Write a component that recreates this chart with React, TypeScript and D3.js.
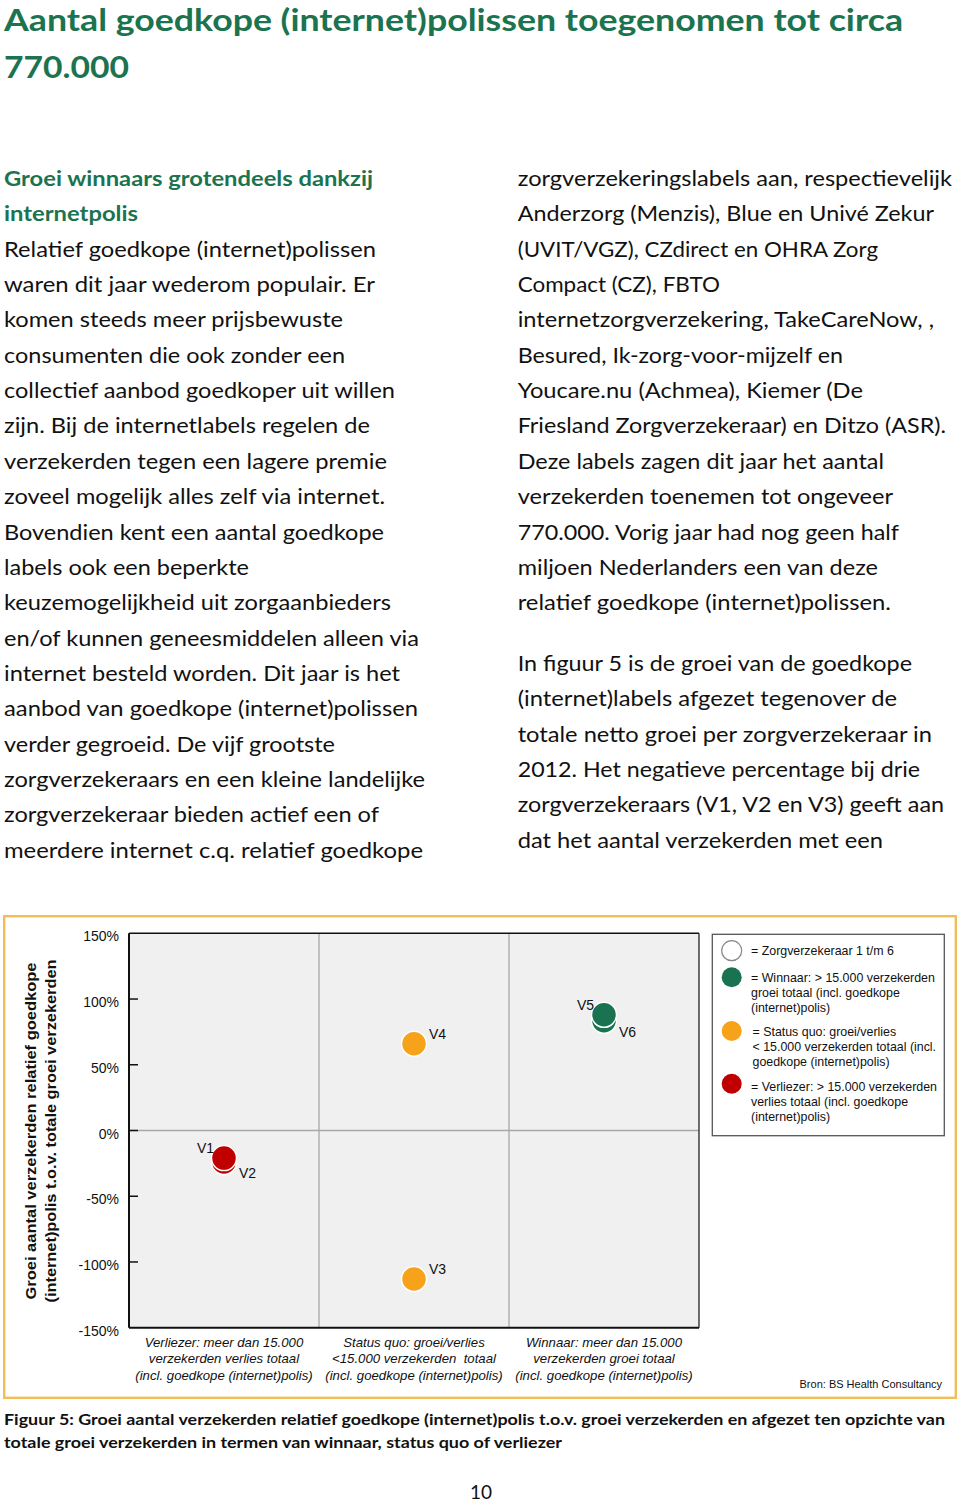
import React from "react";
import * as d3 from "d3";

// ---------- chart data ----------
const categories = ["Verliezer", "Status quo", "Winnaar"];
const insurers = ["V1", "V2", "V3", "V4", "V5", "V6"];
const insurerGroup = ["Verliezer", "Verliezer", "Status quo", "Status quo", "Winnaar", "Winnaar"];
const growthPct = [-21, -24, -113, 66, 88, 83.5];
const labelSide = ["upLeft", "downRight", "upRight", "upRight", "upLeft", "downRight"];
const yTicks = [150, 100, 50, 0, -50, -100, -150];
const categoryLabels = [
  ["Verliezer: meer dan 15.000", "verzekerden verlies totaal", "(incl. goedkope (internet)polis)"],
  ["Status quo: groei/verlies", "<15.000 verzekerden  totaal", "(incl. goedkope (internet)polis)"],
  ["Winnaar: meer dan 15.000", "verzekerden groei totaal", "(incl. goedkope (internet)polis)"],
];
const legendItems = [
  { key: "none", lines: ["= Zorgverzekeraar 1 t/m 6"] },
  { key: "Winnaar", lines: ["= Winnaar: > 15.000 verzekerden", "groei totaal (incl. goedkope", "(internet)polis)"] },
  { key: "Status quo", lines: ["= Status quo: groei/verlies", "< 15.000 verzekerden totaal (incl.", "goedkope (internet)polis)"] },
  { key: "Verliezer", lines: ["= Verliezer: > 15.000 verzekerden", "verlies totaal (incl. goedkope", "(internet)polis)"] },
];
const yTitle = ["Groei aantal verzekerden relatief goedkope", "(internet)polis t.o.v. totale groei verzekerden"];
const source = "Bron: BS Health Consultancy";

// ---------- page text ----------
const titleLines = ["Aantal goedkope (internet)polissen toegenomen tot circa", "770.000"];
const leftHeading = ["Groei winnaars grotendeels dankzij", "internetpolis"];
const leftBody = [
  "Relatief goedkope (internet)polissen",
  "waren dit jaar wederom populair. Er",
  "komen steeds meer prijsbewuste",
  "consumenten die ook zonder een",
  "collectief aanbod goedkoper uit willen",
  "zijn. Bij de internetlabels regelen de",
  "verzekerden tegen een lagere premie",
  "zoveel mogelijk alles zelf via internet.",
  "Bovendien kent een aantal goedkope",
  "labels ook een beperkte",
  "keuzemogelijkheid uit zorgaanbieders",
  "en/of kunnen geneesmiddelen alleen via",
  "internet besteld worden. Dit jaar is het",
  "aanbod van goedkope (internet)polissen",
  "verder gegroeid. De vijf grootste",
  "zorgverzekeraars en een kleine landelijke",
  "zorgverzekeraar bieden actief een of",
  "meerdere internet c.q. relatief goedkope",
];
const rightBody = [
  "zorgverzekeringslabels aan, respectievelijk",
  "Anderzorg (Menzis), Blue en Univé Zekur",
  "(UVIT/VGZ), CZdirect en OHRA Zorg",
  "Compact (CZ), FBTO",
  "internetzorgverzekering, TakeCareNow, ,",
  "Besured, Ik-zorg-voor-mijzelf en",
  "Youcare.nu (Achmea), Kiemer (De",
  "Friesland Zorgverzekeraar) en Ditzo (ASR).",
  "Deze labels zagen dit jaar het aantal",
  "verzekerden toenemen tot ongeveer",
  "770.000. Vorig jaar had nog geen half",
  "miljoen Nederlanders een van deze",
  "relatief goedkope (internet)polissen.",
  "In figuur 5 is de groei van de goedkope",
  "(internet)labels afgezet tegenover de",
  "totale netto groei per zorgverzekeraar in",
  "2012. Het negatieve percentage bij drie",
  "zorgverzekeraars (V1, V2 en V3) geeft aan",
  "dat het aantal verzekerden met een",
];
const captionLines = [
  "Figuur 5: Groei aantal verzekerden relatief goedkope (internet)polis t.o.v. groei verzekerden en afgezet ten opzichte van",
  "totale groei verzekerden in termen van winnaar, status quo of verliezer",
];
const pageNumber = "10";

// ---------- layout (measured line end positions) ----------
const leftHeadingEnds = [373, 138];
const leftBodyEnds = [376, 375, 343, 345, 395, 370, 387, 385, 384, 249, 391, 419, 400, 418, 335, 425, 379, 423];
const rightBodyEnds = [952, 934, 878, 720, 934, 843, 863, 946, 884, 893, 899, 878, 891, 912, 897, 932, 920, 944, 883];

const GREEN_TEXT = "#1b7350";
const colors: Record<string, string> = {
  Verliezer: "#c00000",
  "Status quo": "#f7a21b",
  Winnaar: "#1a7350",
};

const BODY_FONT = "Lato, 'Open Sans', sans-serif";
const CHART_FONT = "'Liberation Sans', Arial, sans-serif";

export default function App() {
  const W = 960;
  const H = 1503;

  const x = d3.scaleBand<string>().domain(categories).range([129, 699]).padding(0);
  const y = d3.scaleLinear().domain([-150, 150]).range([1327.7, 933.3]);

  const lineH = 35.35;
  const leftX = 4;
  const rightX = 517.7;

  const points = insurers
    .map((name, i) => ({
      name,
      group: insurerGroup[i],
      value: growthPct[i],
      side: labelSide[i],
    }))
    .sort((a, b) => a.value - b.value);

  const r = 12.5;

  return (
    <div style={{ position: "absolute", left: 0, top: 0 }}>
      <svg width={W} height={H} style={{ display: "block", background: "#fff" }}>
        {/* Title */}
        {titleLines.map((t, i) => (
          <text
            key={"t" + i}
            x={leftX}
            y={31 + i * 47}
            fontFamily={BODY_FONT}
            fontWeight="bold"
            fontSize={31}
            fill={GREEN_TEXT}
            textLength={i === 0 ? 899 : 125}
            lengthAdjust="spacingAndGlyphs"
          >
            {t}
          </text>
        ))}

        {/* Left column */}
        {leftHeading.map((t, i) => (
          <text
            key={"lh" + i}
            x={leftX}
            y={186 + i * lineH}
            fontFamily={BODY_FONT}
            fontWeight="bold"
            fontSize={21}
            fill={GREEN_TEXT}
            textLength={leftHeadingEnds[i] - leftX}
            lengthAdjust="spacingAndGlyphs"
          >
            {t}
          </text>
        ))}
        {leftBody.map((t, i) => (
          <text
            key={"lb" + i}
            x={leftX}
            y={186 + (i + 2) * lineH}
            fontFamily={BODY_FONT}
            fontSize={21}
            fill="#111"
            textLength={leftBodyEnds[i] - leftX}
            lengthAdjust="spacingAndGlyphs"
          >
            {t}
          </text>
        ))}

        {/* Right column */}
        {rightBody.map((t, i) => (
          <text
            key={"rb" + i}
            x={rightX}
            y={i < 13 ? 186 + i * lineH : 671 + (i - 13) * lineH}
            fontFamily={BODY_FONT}
            fontSize={21}
            fill="#111"
            textLength={rightBodyEnds[i] - rightX}
            lengthAdjust="spacingAndGlyphs"
          >
            {t}
          </text>
        ))}

        {/* Figure frame */}
        <rect x={4.2} y={916.2} width={951.6} height={481.6} fill="none" stroke="#f1bd57" strokeWidth={2.4} />

        {/* Plot background */}
        <rect x={129} y={y(150)} width={699 - 129} height={y(-150) - y(150)} fill="#f0f0f0" />

        {/* Grid lines */}
        {categories.slice(1).map((c) => (
          <line key={"vg" + c} x1={x(c)!} x2={x(c)!} y1={y(150)} y2={y(-150)} stroke="#a8a8a8" strokeWidth={1.3} />
        ))}
        <line x1={129} x2={699} y1={y(0)} y2={y(0)} stroke="#a8a8a8" strokeWidth={1.3} />

        {/* Plot border */}
        <line x1={129} x2={699} y1={y(150)} y2={y(150)} stroke="#111" strokeWidth={1.5} />
        <line x1={699} x2={699} y1={y(150)} y2={y(-150)} stroke="#222" strokeWidth={1.3} />
        <line x1={129} x2={699} y1={y(-150)} y2={y(-150)} stroke="#111" strokeWidth={2} />
        <line x1={129} x2={129} y1={y(150)} y2={y(-150)} stroke="#111" strokeWidth={2} />

        {/* Y ticks & labels */}
        {yTicks.map((v) => (
          <g key={"yt" + v}>
            {v !== 150 && v !== -150 && (
              <line x1={129} x2={138} y1={y(v)} y2={y(v)} stroke="#111" strokeWidth={1.5} />
            )}
            <text
              x={119}
              y={y(v) + 3}
              textAnchor="end"
              dominantBaseline="central"
              fontFamily={CHART_FONT}
              fontSize={14}
              fill="#111"
            >
              {v + "%"}
            </text>
          </g>
        ))}

        {/* Y axis title */}
        {yTitle.map((t, i) => (
          <text
            key={"yti" + i}
            transform={`translate(${30 + i * 20},1131) rotate(-90)`}
            textAnchor="middle"
            dominantBaseline="central"
            fontFamily={CHART_FONT}
            fontWeight="bold"
            fontSize={15.5}
            fill="#111"
            textLength={i === 0 ? 337 : 343}
            lengthAdjust="spacingAndGlyphs"
          >
            {t}
          </text>
        ))}

        {/* Category labels */}
        {categories.map((c, ci) =>
          categoryLabels[ci].map((t, li) => (
            <text
              key={"cl" + ci + "-" + li}
              x={x(c)! + x.bandwidth() / 2}
              y={1342 + li * 16.5}
              textAnchor="middle"
              dominantBaseline="central"
              fontFamily={CHART_FONT}
              fontStyle="italic"
              fontSize={13.2}
              fill="#111"
              style={{ whiteSpace: "pre" }}
            >
              {t}
            </text>
          ))
        )}

        {/* Points */}
        {points.map((p) => {
          const cx = x(p.group)! + x.bandwidth() / 2;
          const cy = y(p.value);
          return (
            <circle key={"pt" + p.name} cx={cx} cy={cy} r={r} fill={colors[p.group]} stroke="#fff" strokeWidth={1.5} />
          );
        })}
        {points.map((p) => {
          const cx = x(p.group)! + x.bandwidth() / 2;
          const cy = y(p.value);
          let lx = cx + 15;
          let ly = cy - 10;
          let anchor = "start";
          if (p.side === "upLeft") {
            lx = cx - 10;
            ly = cy - 10;
            anchor = "end";
          } else if (p.side === "downRight") {
            lx = cx + 15;
            ly = cy + 11;
          }
          return (
            <text
              key={"lbl" + p.name}
              x={lx}
              y={ly}
              textAnchor={anchor}
              dominantBaseline="central"
              fontFamily={CHART_FONT}
              fontSize={14}
              fill="#111"
            >
              {p.name}
            </text>
          );
        })}

        {/* Legend */}
        <rect x={712.3} y={934.3} width={232} height={201.4} fill="#fff" stroke="#555" strokeWidth={1.3} />
        {legendItems.map((item, i) => {
          const tops = [951, 977.5, 1031.5, 1086.8];
          const cys = [950.7, 977.3, 1031, 1083.7];
          const tx = item.key === "Status quo" ? 752.5 : 751;
          return (
            <g key={"lg" + i}>
              <circle
                cx={731.7}
                cy={cys[i]}
                r={10}
                fill={item.key === "none" ? "#fff" : colors[item.key]}
                stroke={item.key === "none" ? "#888" : "none"}
                strokeWidth={1.2}
              />
              {item.lines.map((t, li) => (
                <text
                  key={"lgt" + li}
                  x={tx}
                  y={tops[i] + li * 15}
                  dominantBaseline="central"
                  fontFamily={CHART_FONT}
                  fontSize={12.4}
                  fill="#111"
                >
                  {t}
                </text>
              ))}
            </g>
          );
        })}

        {/* Source */}
        <text x={942} y={1384} textAnchor="end" dominantBaseline="central" fontFamily={CHART_FONT} fontSize={11} fill="#111">
          {source}
        </text>

        {/* Caption */}
        {captionLines.map((t, i) => (
          <text
            key={"cap" + i}
            x={leftX}
            y={1425 + i * 23}
            fontFamily={BODY_FONT}
            fontWeight="bold"
            fontSize={16}
            fill="#111"
            textLength={i === 0 ? 941 : 558}
            lengthAdjust="spacingAndGlyphs"
          >
            {t}
          </text>
        ))}

        {/* Page number */}
        <text x={481} y={1499} textAnchor="middle" fontFamily={BODY_FONT} fontSize={19} fill="#111">
          {pageNumber}
        </text>
      </svg>
    </div>
  );
}
